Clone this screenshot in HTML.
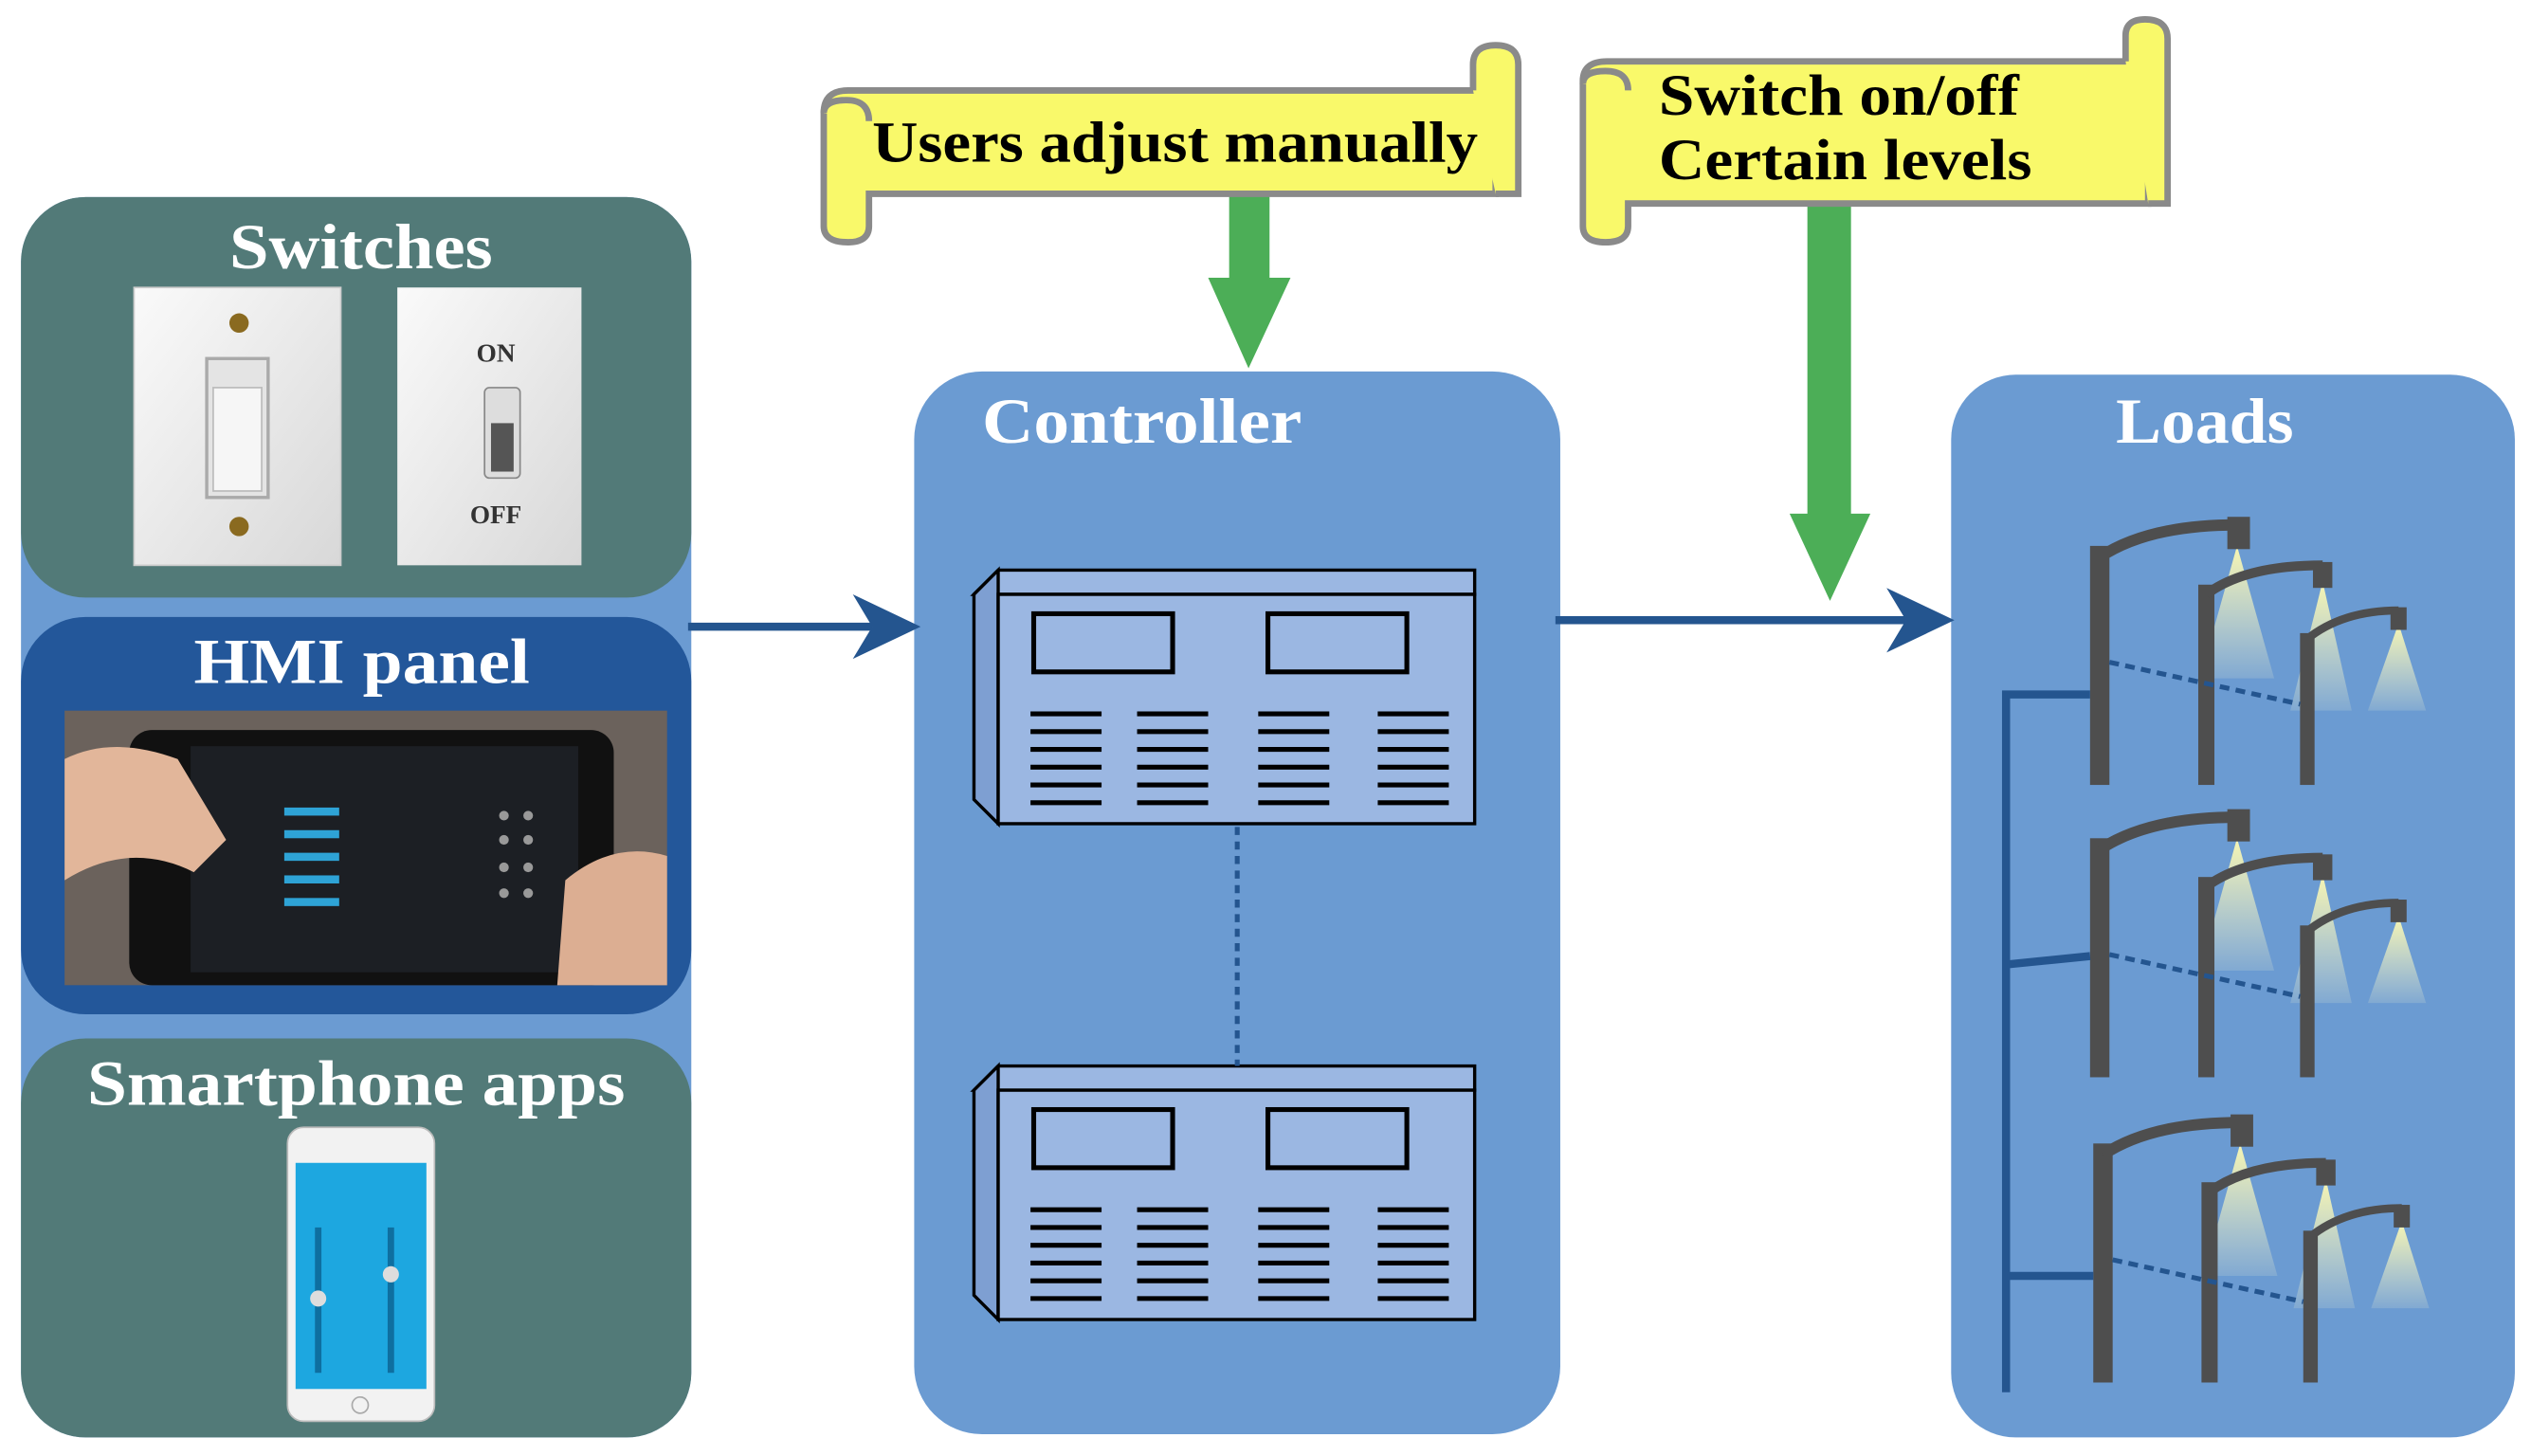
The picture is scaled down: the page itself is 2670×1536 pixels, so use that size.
<!DOCTYPE html>
<html><head><meta charset="utf-8"><style>
html,body{margin:0;padding:0;background:#fff;}
svg{display:block;}
text{font-family:"Liberation Serif",serif;font-weight:bold;}
</style></head><body>
<svg width="2670" height="1536" viewBox="0 0 1567 901.5" preserveAspectRatio="none" xmlns="http://www.w3.org/2000/svg">
<defs>
<linearGradient id="beam" x1="0" y1="0" x2="0" y2="1">
<stop offset="0" stop-color="#fffbb0" stop-opacity="0.95"/><stop offset="1" stop-color="#fffbd0" stop-opacity="0.15"/>
</linearGradient>
<linearGradient id="sw2" x1="0" y1="0" x2="1" y2="1">
<stop offset="0" stop-color="#fafafa"/><stop offset="1" stop-color="#d8d8d8"/>
</linearGradient>
<g id="rack">
<polygon points="603,368 618,353 913,353 913,368" fill="#9bb7e2" stroke="#000" stroke-width="2"/>
<polygon points="603,368 618,353 618,510 603,495" fill="#7e9fd2" stroke="#000" stroke-width="2"/>
<rect x="618" y="368" width="295" height="142" fill="#9bb7e2" stroke="#000" stroke-width="2"/>
<rect x="640" y="380" width="86" height="36" fill="#9bb7e2" stroke="#000" stroke-width="3"/>
<rect x="785" y="380" width="86" height="36" fill="#9bb7e2" stroke="#000" stroke-width="3"/>
<g stroke="#000" stroke-width="3">
<path d="M638 442h44M638 453h44M638 464h44M638 475h44M638 486h44M638 497h44"/>
<path d="M704 442h44M704 453h44M704 464h44M704 475h44M704 486h44M704 497h44"/>
<path d="M779 442h44M779 453h44M779 464h44M779 475h44M779 486h44M779 497h44"/>
<path d="M853 442h44M853 453h44M853 464h44M853 475h44M853 486h44M853 497h44"/>
</g>
</g>
<g id="lights">
<polygon points="1385,338 1362,420 1408,420" fill="url(#beam)"/>
<polygon points="1438,360 1418,440 1456,440" fill="url(#beam)"/>
<polygon points="1485,386 1466,440 1502,440" fill="url(#beam)"/>
<rect x="1294" y="338" width="12" height="148" fill="#4e4e4e"/>
<path d="M1300 345 Q1330 325 1385 325" stroke="#4e4e4e" stroke-width="7" fill="none"/>
<rect x="1379" y="320" width="14" height="20" fill="#4e4e4e"/>
<rect x="1361" y="362" width="10" height="124" fill="#4e4e4e"/>
<path d="M1366 368 Q1390 350 1438 350" stroke="#4e4e4e" stroke-width="6" fill="none"/>
<rect x="1432" y="348" width="12" height="16" fill="#4e4e4e"/>
<rect x="1424" y="392" width="9" height="94" fill="#4e4e4e"/>
<path d="M1428 396 Q1450 378 1485 378" stroke="#4e4e4e" stroke-width="5" fill="none"/>
<rect x="1480" y="376" width="10" height="14" fill="#4e4e4e"/>
<path d="M1306 410 L1424 436" stroke="#24558f" stroke-width="3" stroke-dasharray="6,4"/>
</g>
</defs>

<rect x="13" y="122" width="415" height="768" rx="40" fill="#6b9bd2"/>
<rect x="13" y="122" width="415" height="248" rx="40" fill="#527a78"/>
<rect x="13" y="382" width="415" height="246" rx="40" fill="#23579a"/>
<rect x="13" y="643" width="415" height="247" rx="40" fill="#527a78"/>
<text x="142" y="166" font-size="40" fill="#fff" textLength="163" lengthAdjust="spacingAndGlyphs">Switches</text>
<text x="120" y="423" font-size="40" fill="#fff" textLength="208" lengthAdjust="spacingAndGlyphs">HMI panel</text>
<text x="54" y="684" font-size="40" fill="#fff" textLength="333" lengthAdjust="spacingAndGlyphs">Smartphone apps</text>

<rect x="83" y="178" width="128" height="172" fill="url(#sw2)" stroke="#ccc"/>
<circle cx="148" cy="200" r="6" fill="#8a6a20"/><circle cx="148" cy="326" r="6" fill="#8a6a20"/>
<rect x="128" y="222" width="38" height="86" fill="#e4e4e4" stroke="#aaa" stroke-width="2"/>
<rect x="132" y="240" width="30" height="64" fill="#f6f6f6" stroke="#bbb"/>
<rect x="246" y="178" width="114" height="172" fill="url(#sw2)"/>
<text x="307" y="224" font-size="16" fill="#333" text-anchor="middle" font-family="Liberation Sans">ON</text>
<text x="307" y="324" font-size="16" fill="#333" text-anchor="middle" font-family="Liberation Sans">OFF</text>
<rect x="300" y="240" width="22" height="56" rx="3" fill="#ddd" stroke="#888"/>
<rect x="304" y="262" width="14" height="30" fill="#555"/>

<rect x="40" y="440" width="373" height="170" fill="#6b625c"/>
<rect x="80" y="452" width="300" height="158" rx="14" fill="#111"/>
<rect x="118" y="462" width="240" height="140" fill="#1c1f24"/>
<g fill="#2ea3d6"><rect x="176" y="500" width="34" height="5"/><rect x="176" y="514" width="34" height="5"/><rect x="176" y="528" width="34" height="5"/><rect x="176" y="542" width="34" height="5"/><rect x="176" y="556" width="34" height="5"/></g>
<g fill="#999"><circle cx="312" cy="505" r="3"/><circle cx="327" cy="505" r="3"/><circle cx="312" cy="520" r="3"/><circle cx="327" cy="520" r="3"/><circle cx="312" cy="537" r="3"/><circle cx="327" cy="537" r="3"/><circle cx="312" cy="553" r="3"/><circle cx="327" cy="553" r="3"/></g>
<path d="M40 470 Q70 455 110 470 L140 520 L120 540 Q80 520 40 545Z" fill="#e2b69a"/>
<path d="M413 530 Q380 520 350 545 L345 610 L413 610Z" fill="#dcae92"/>

<rect x="178" y="698" width="91" height="182" rx="10" fill="#f2f2f2" stroke="#bbb"/>
<rect x="183" y="720" width="81" height="140" fill="#1da7e0"/>
<rect x="195" y="760" width="4" height="90" fill="#0e6fa0"/><rect x="240" y="760" width="4" height="90" fill="#0e6fa0"/>
<circle cx="197" cy="804" r="5" fill="#ddd"/><circle cx="242" cy="789" r="5" fill="#ddd"/>
<circle cx="223" cy="870" r="5" fill="none" stroke="#aaa"/>

<rect x="566" y="230" width="400" height="658" rx="42" fill="#6b9bd2"/>
<text x="608" y="274" font-size="40" fill="#fff" textLength="198" lengthAdjust="spacingAndGlyphs">Controller</text>
<use href="#rack"/>
<use href="#rack" transform="translate(0,307)"/>
<line x1="766" y1="512" x2="766" y2="660" stroke="#24558f" stroke-width="3" stroke-dasharray="5,4"/>

<rect x="1208" y="232" width="349" height="658" rx="40" fill="#6b9bd2"/>
<text x="1310" y="274" font-size="40" fill="#fff" textLength="110" lengthAdjust="spacingAndGlyphs">Loads</text>
<use href="#lights"/>
<use href="#lights" transform="translate(0,181)"/>
<use href="#lights" transform="translate(2,370)"/>
<path d="M1242 862 V430 H1294 M1244 597 L1294 592 M1244 790 L1296 790" stroke="#24558f" stroke-width="5" fill="none"/>

<line x1="426" y1="388" x2="540" y2="388" stroke="#24558f" stroke-width="5"/>
<polygon points="528,368 570,388 528,408 540,388" fill="#24558f"/>
<line x1="963" y1="384" x2="1180" y2="384" stroke="#24558f" stroke-width="5"/>
<polygon points="1168,364 1210,384 1168,404 1180,384" fill="#24558f"/>
<rect x="761" y="118" width="25" height="56" fill="#4cae57"/>
<polygon points="748,172 799,172 773,228" fill="#4cae57"/>
<rect x="1119" y="124" width="27" height="196" fill="#4cae57"/>
<polygon points="1108,318 1158,318 1133,372" fill="#4cae57"/>

<g stroke="#8a8a8a" stroke-width="4" fill="#f9f96a">
<path d="M525 56 H926 V120 H538 V140 Q538 150 525 150 Q510 150 510 140 V70 Q510 56 525 56Z"/>
<path d="M912 56 V40 Q912 28 926 28 Q940 28 940 40 V120 H926"/>
<path d="M510 70 Q510 62 524 62 Q538 62 538 75"/>
<path d="M995 38 H1330 V126 H1008 V140 Q1008 150 994 150 Q980 150 980 140 V50 Q980 38 995 38Z"/>
<path d="M1316 38 V22 Q1316 12 1328 12 Q1342 12 1342 24 V126 H1330"/>
<path d="M980 52 Q980 44 994 44 Q1008 44 1008 56"/>
</g>
<text x="540" y="100" font-size="36" fill="#000" textLength="375" lengthAdjust="spacingAndGlyphs">Users adjust manually</text>
<text x="1027" y="71" font-size="36" fill="#000" textLength="223" lengthAdjust="spacingAndGlyphs">Switch on/off</text>
<text x="1027" y="111" font-size="36" fill="#000" textLength="231" lengthAdjust="spacingAndGlyphs">Certain levels</text>
</svg>
</body></html>
